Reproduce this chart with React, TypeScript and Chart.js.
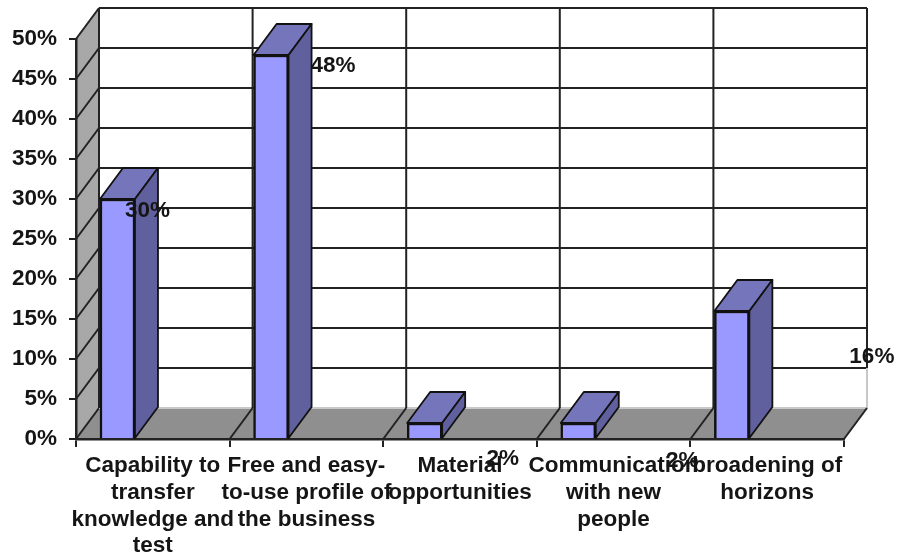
import { useEffect, useRef } from "react";
import { Chart, registerables } from "chart.js";

Chart.register(...registerables);

const categories: (string | string[])[] = [
  ["Capability to", "transfer", "knowledge and", "test"],
  ["Free and easy-", "to-use profile of", "the business"],
  ["Material", "opportunities"],
  ["Communication", "with new", "people"],
  ["broadening of", "horizons"],
];
const values = [30, 48, 2, 2, 16];
const labelNudges = [
  [30, 12],
  [62, 11],
  [78, 36],
  [104, 38],
  [140, 46],
];

const DX = 23;
const DY = 31;
const FONT = "bold 22.5px 'Liberation Sans', Arial, sans-serif";
const INK = "#151515";

const poly = (ctx: CanvasRenderingContext2D, pts: number[][], fill: string | null, stroke: string | null, lw = 1.8) => {
  ctx.beginPath();
  pts.forEach((p, i) => (i ? ctx.lineTo(p[0], p[1]) : ctx.moveTo(p[0], p[1])));
  ctx.closePath();
  if (fill) {
    ctx.fillStyle = fill;
    ctx.fill();
  }
  if (stroke) {
    ctx.strokeStyle = stroke;
    ctx.lineWidth = lw;
    ctx.stroke();
  }
};
const seg = (ctx: CanvasRenderingContext2D, x1: number, y1: number, x2: number, y2: number, c = "#222", lw = 2) => {
  ctx.beginPath();
  ctx.moveTo(x1, y1);
  ctx.lineTo(x2, y2);
  ctx.strokeStyle = c;
  ctx.lineWidth = lw;
  ctx.stroke();
};

const wallsPlugin = {
  id: "walls",
  beforeDraw(chart: any) {
    const { ctx, chartArea: a, scales } = chart;
    const y = scales.y;
    const x = scales.x;
    ctx.save();
    ctx.fillStyle = "#ffffff";
    ctx.fillRect(0, 0, chart.width, chart.height);
    poly(ctx, [[a.left, a.top], [a.left + DX, a.top - DY], [a.left + DX, a.bottom - DY], [a.left, a.bottom]], "#a8a8a8", null);
    poly(ctx, [[a.left, a.bottom], [a.left + DX, a.bottom - DY], [a.right + DX, a.bottom - DY], [a.right, a.bottom]], "#8f8f8f", null);
    y.ticks.forEach((t: any) => {
      const py = y.getPixelForValue(t.value);
      seg(ctx, a.left, py, a.left + DX, py - DY);
      if (t.value > 0) seg(ctx, a.left + DX, py - DY, a.right + DX, py - DY);
      else seg(ctx, a.left + DX, py - DY, a.right + DX, py - DY, "#c8c8c8", 2);
    });
    categories.forEach((_, i) => {
      const px = x.getPixelForValue(i) + x.width / categories.length / 2;
      const isLast = i === categories.length - 1;
      const fadeAt = y.getPixelForValue(5) - DY;
      seg(ctx, px + DX, a.top - DY, px + DX, isLast ? fadeAt : a.bottom - DY);
      if (isLast) seg(ctx, px + DX, fadeAt, px + DX, a.bottom - DY, "#c8c8c8", 2);
      seg(ctx, px, a.bottom, px + DX, a.bottom - DY);
    });
    seg(ctx, a.left + DX, a.top - DY, a.left + DX, a.bottom - DY);
    ctx.restore();
  },
};

const prismPlugin = {
  id: "prism",
  afterDatasetsDraw(chart: any) {
    const { ctx } = chart;
    const bars = chart.getDatasetMeta(0).data;
    ctx.save();
    ctx.lineJoin = "round";
    bars.forEach((b: any) => {
      const l = b.x - b.width / 2;
      const r = b.x + b.width / 2;
      const t = b.y;
      const bt = b.base;
      poly(ctx, [[l, t], [l + DX, t - DY], [r + DX, t - DY], [r, t]], "#7575bc", "#111");
      poly(ctx, [[r, t], [r + DX, t - DY], [r + DX, bt - DY], [r, bt]], "#60609e", "#111");
    });
    ctx.font = FONT;
    ctx.fillStyle = INK;
    ctx.textAlign = "center";
    ctx.textBaseline = "middle";
    bars.forEach((b: any, i: number) => {
      ctx.fillText(values[i] + "%", b.x + labelNudges[i][0], b.y + labelNudges[i][1]);
    });
    ctx.restore();
  },
};

export default function App() {
  const ref = useRef<HTMLCanvasElement>(null);
  useEffect(() => {
    const chart = new Chart(ref.current!, {
      type: "bar",
      data: {
        labels: categories as any,
        datasets: [
          {
            data: values.map((v, i) => ({ x: i, y: v })) as any,
            xAxisID: "xb",
            yAxisID: "y",
            backgroundColor: "#9999ff",
            borderColor: "#111",
            borderWidth: 2.5,
            barThickness: 35,
          },
        ],
      },
      options: {
        responsive: false,
        animation: false,
        layout: { padding: { top: 39, right: 54, left: 0, bottom: 0 } },
        plugins: { legend: { display: false }, tooltip: { enabled: false } },
        scales: {
          xb: { type: "linear", axis: "x", display: false, offset: false, min: -0.27, max: 4.73 } as any,
          x: {
            type: "category",
            offset: true,
            position: "bottom",
            grid: { offset: true, drawOnChartArea: false, drawTicks: true, tickLength: 8, color: "#222", lineWidth: 2 },
            border: { display: true, color: "#222", width: 2.5 },
            ticks: {
              autoSkip: false,
              maxRotation: 0,
              minRotation: 0,
              padding: 6,
              color: INK,
              font: { family: "'Liberation Sans', Arial, sans-serif", size: 22.5, weight: "bold", lineHeight: 1.18 },
            },
            afterFit: (s: any) => {
              s.height = 114;
            },
          },
          y: {
            type: "linear",
            min: 0,
            max: 50,
            grid: { drawOnChartArea: false, drawTicks: true, tickLength: 7, color: "#222", lineWidth: 2 },
            border: { display: true, color: "#222", width: 2.5 },
            ticks: {
              stepSize: 5,
              padding: 12,
              color: INK,
              font: { family: "'Liberation Sans', Arial, sans-serif", size: 22.5, weight: "bold" },
              callback: (v: any) => v + "%",
            },
            afterFit: (s: any) => {
              s.width = 76;
            },
          },
        },
      },
      plugins: [wallsPlugin, prismPlugin],
    } as any);
    return () => chart.destroy();
  }, []);
  return (
    <canvas
      ref={ref}
      width={898}
      height={553}
      style={{ position: "absolute", left: 0, top: 0, display: "block", filter: "blur(0.45px)" }}
    />
  );
}
